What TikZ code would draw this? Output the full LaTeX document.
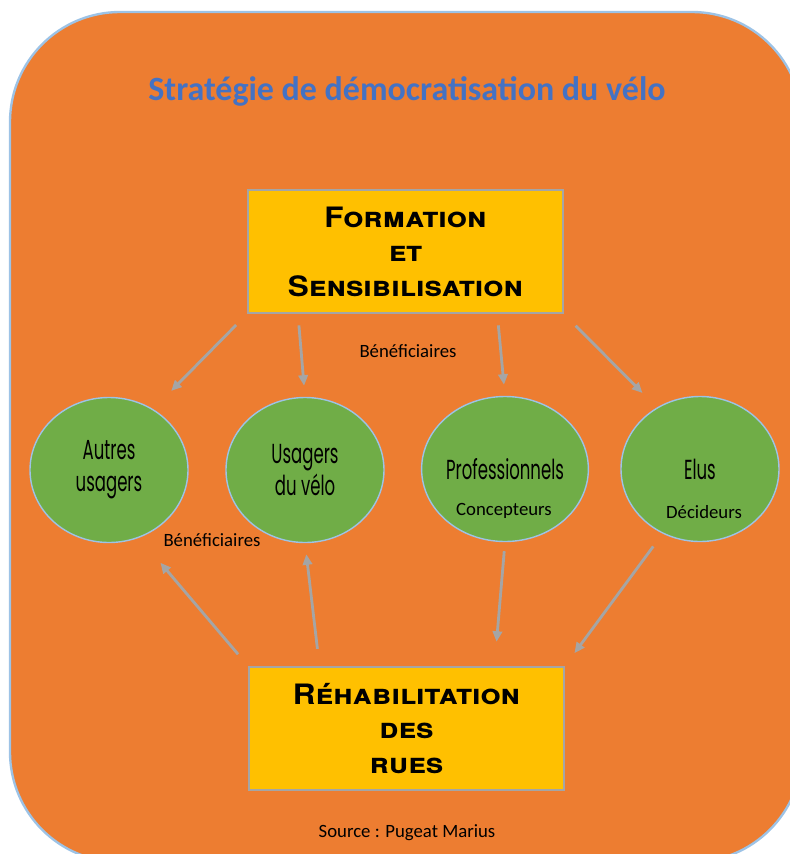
\documentclass[tikz,border=0pt]{standalone}
\usepackage{fontspec}
\usetikzlibrary{shapes.geometric,arrows.meta,calc}
\setmainfont{Carlito}
\newfontfamily\agencyfont[FakeStretch=0.6]{Poppins}
\newfontfamily\copperfont[Letters=SmallCaps,FakeStretch=1.12]{TeX Gyre Heros}
\definecolor{bgOrange}{HTML}{ED7D31}
\definecolor{bgBorder}{HTML}{9DC3E6}
\definecolor{boxYellow}{HTML}{FFC000}
\definecolor{boxBorder}{HTML}{A5A5A5}
\definecolor{ellGreen}{HTML}{70AD47}
\definecolor{ellBorder}{HTML}{9DC3E6}
\definecolor{arrowGray}{HTML}{A5A5A5}
\definecolor{titleBlue}{HTML}{4472C4}

\begin{document}
\begin{tikzpicture}[x=0.03cm,y=-0.03cm]
 \tikzset{
  actionBox/.style={rectangle, draw=boxBorder, line width=1.2pt, fill=boxYellow,
    minimum width=9.45cm, minimum height=3.69cm, inner sep=0pt, align=center,
    font=\copperfont\bfseries\fontsize{24}{29.5}\selectfont},
  publicNode/.style={ellipse, draw=ellBorder, line width=1.2pt, fill=ellGreen,
    minimum width=4.74cm, minimum height=4.35cm, inner sep=0pt, align=center,
    font=\agencyfont\fontsize{23.5}{27.5}\selectfont},
  smallLabel/.style={font=\fontsize{16}{19}\selectfont},
  benefArrow/.style={-{Triangle[length=9pt,width=8pt]}, draw=arrowGray, line width=2.4pt}
  }
  \useasboundingbox (0,0) rectangle (790,854);
  % the big rounded frame
  \draw[bgBorder, line width=2pt, fill=bgOrange, rounded corners=3.3cm] (10,12) rectangle (802,862);

  \node[font=\bfseries\fontsize{29}{34}\selectfont, text=titleBlue] (title) at (407,91)
    {Stratégie de démocratisation du vélo};

  % the two actions
  \node[actionBox] (formation) at (405.5,251.5) {Formation\\et\\Sensibilisation};
  \node[actionBox] (rehab) at (406.5,728.5) {Réhabilitation\\des\\rues};

  % the four publics
  \node[publicNode] (autres) at (109,470) {Autres\\usagers};
  \node[publicNode] (usagers) at (305,470) {Usagers\\du vélo};
  \node[publicNode] (professionnels) at (505,469) {Professionnels};
  \node[publicNode] (elus) at (700,469) {Elus};
  \node[smallLabel] (concepteurs) at (504,511) {Concepteurs};
  \node[smallLabel] (decideurs) at (704,512) {Décideurs};

  \node[smallLabel] (benefHaut) at (408,351) {Bénéficiaires};
  \node[smallLabel] (benefBas) at (212,540) {Bénéficiaires};

  % arrows from the training
  \draw[benefArrow, shorten <=13.5pt, shorten >=21.8pt] (formation.south west) -- (autres.54);
  \draw[benefArrow, shorten <=10pt, shorten >=9.5pt]
    ($(formation.south west)!0.16!(formation.south east)$) -- (usagers.north);
  \draw[benefArrow, shorten <=10pt, shorten >=9.5pt]
    ($(formation.south west)!0.79!(formation.south east)$) -- (professionnels.north);
  \draw[benefArrow, shorten <=14.5pt, shorten >=17.4pt] (formation.south east) -- (elus.125);

  % arrows round the streets
  \draw[benefArrow, shorten <=13.5pt, shorten >=28pt] (rehab.north west) -- (autres.-66);
  \draw[benefArrow, shorten <=15pt, shorten >=9.5pt]
    ($(rehab.north west)!0.225!(rehab.north east)$) -- (usagers.south);
  \draw[benefArrow, shorten <=7.7pt, shorten >=21pt]
    (professionnels.south) -- ($(rehab.north west)!0.778!(rehab.north east)$);
  \draw[benefArrow, shorten <=13.5pt, shorten >=14pt] (elus.-120) -- (rehab.north east);

  \node[smallLabel] (source) at (407,833) {Source : Pugeat Marius};
\end{tikzpicture}
\end{document}
